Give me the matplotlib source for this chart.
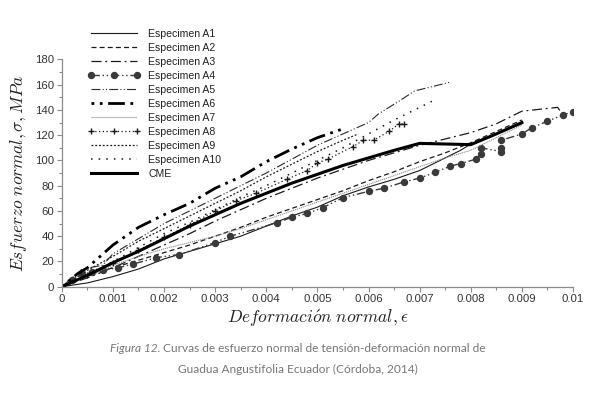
import matplotlib
matplotlib.use('Agg')
import matplotlib.pyplot as plt
from matplotlib.ticker import MultipleLocator, FuncFormatter

plt.rcParams['mathtext.fontset'] = 'cm'

# ── datos (deformacion, esfuerzo MPa) ──────────────────────────────────────
a1_eps = [0, 0.0005, 0.001, 0.0015, 0.002, 0.0025, 0.003, 0.0035, 0.004, 0.0045,
          0.005, 0.0055, 0.006, 0.0065, 0.007, 0.0072, 0.0078, 0.008, 0.0085, 0.009]
a1_sig = [0, 3, 8, 14, 22, 28, 34, 40, 48, 56, 63, 72, 79, 85, 92, 96, 108, 113, 121, 129]

a2_eps = [0, 0.0005, 0.001, 0.0015, 0.002, 0.0025, 0.003, 0.0035, 0.004, 0.0045,
          0.005, 0.0055, 0.006, 0.0065, 0.007, 0.0075, 0.008, 0.0085, 0.009]
a2_sig = [0, 9, 15, 21, 27, 33, 40, 47, 55, 62, 69, 76, 84, 91, 99, 106, 114, 123, 132]

a3_eps = [0, 0.0005, 0.001, 0.0015, 0.002, 0.0025, 0.003, 0.0035, 0.004, 0.0045,
          0.005, 0.0055, 0.006, 0.0065, 0.007, 0.0075, 0.008, 0.0085, 0.009, 0.0097, 0.0098]
a3_sig = [0, 7, 15, 24, 33, 42, 52, 61, 70, 78, 86, 93, 100, 106, 112, 117, 122, 129, 139, 142, 136]

a4_eps = [0, 0.0002, 0.0004, 0.0006, 0.0008, 0.0011, 0.0014, 0.00185, 0.0023, 0.003,
          0.0033, 0.0042, 0.0045, 0.0048, 0.0051, 0.0055, 0.006, 0.0063, 0.0067, 0.007,
          0.0073, 0.0076, 0.0078, 0.0081, 0.0082, 0.0082, 0.0086, 0.0086, 0.0086, 0.009,
          0.0092, 0.0095, 0.0098, 0.01]
a4_sig = [0, 5, 10, 12, 13, 15, 18, 23, 25.5, 35, 40, 50.5, 55, 58, 62.5, 70.5, 75.5,
          78, 83, 86, 90.5, 95.5, 97.5, 101, 105, 110, 107, 110, 116, 121, 126, 131, 136, 138.5]

a5_eps = [0, 0.0004, 0.0008, 0.001, 0.0015, 0.002, 0.0025, 0.003, 0.0035, 0.004, 0.0045,
          0.005, 0.0055, 0.006, 0.0062, 0.0066, 0.0069, 0.0076]
a5_sig = [0, 14, 17, 26, 38, 50, 60, 70, 80, 90, 101, 112, 121, 130, 137, 147, 155, 162]

a6_eps = [0, 0.0003, 0.0005, 0.001, 0.0015, 0.002, 0.0025, 0.003, 0.0035, 0.004,
          0.0045, 0.005, 0.0055]
a6_sig = [0, 10, 15, 33, 47, 57, 66, 78, 87, 99, 109, 118, 125]

a7_eps = [0, 0.0005, 0.001, 0.0015, 0.002, 0.0025, 0.003, 0.0035, 0.004, 0.0045,
          0.005, 0.0055, 0.006, 0.0065, 0.007, 0.0075, 0.008, 0.0085, 0.009]
a7_sig = [0, 8, 17, 24, 30, 35, 40, 46, 53, 60, 67, 74, 81, 88, 95, 102, 108, 118, 128]

a8_eps = [0, 0.0005, 0.001, 0.0015, 0.002, 0.0025, 0.003, 0.0034, 0.0038, 0.0044,
          0.0048, 0.005, 0.0052, 0.0057, 0.0059, 0.0061, 0.0064, 0.0066, 0.0067]
a8_sig = [0, 9, 19, 29, 39, 49, 60, 68, 74, 85, 92, 98, 101, 111, 116, 116, 123, 129, 129]

a9_eps = [0, 0.0005, 0.001, 0.0015, 0.002, 0.0025, 0.003, 0.0035, 0.004, 0.0045,
          0.005, 0.0055, 0.0058]
a9_sig = [0, 13, 24, 36, 46, 56, 66, 76, 87, 97, 107, 116, 121]

a10_eps = [0, 0.0005, 0.001, 0.0015, 0.002, 0.0025, 0.003, 0.0035, 0.004, 0.0045,
           0.005, 0.0055, 0.006, 0.0065, 0.007, 0.0073]
a10_sig = [0, 10, 20, 31, 42, 51, 61, 71, 80, 90, 100, 110, 121, 132, 142, 148]

cme_eps = [0, 0.0005, 0.001, 0.0015, 0.002, 0.0025, 0.003, 0.0035, 0.004, 0.0045,
           0.005, 0.0055, 0.006, 0.0065, 0.007, 0.0075, 0.008, 0.0085, 0.009]
cme_sig = [0, 9, 19, 28, 38, 48, 57, 66, 74, 82, 89, 96, 102, 108, 113.5, 113, 112.5, 121, 130]

x_ticks = [0, 0.001, 0.002, 0.003, 0.004, 0.005, 0.006, 0.007, 0.008, 0.009, 0.01]
y_ticks = [0, 20, 40, 60, 80, 100, 120, 140, 160, 180]

fig = plt.figure(figsize=(6, 3.96), dpi=100)
ax = fig.add_axes([0.103, 0.276, 0.852, 0.574])

ax.plot(a1_eps, a1_sig, '-', color='#1a1a1a', lw=0.8, label='Especimen A1')
ax.plot(a2_eps, a2_sig, color='#1a1a1a', lw=0.9, ls=(0, (4, 2.5)), label='Especimen A2')
ax.plot(a3_eps, a3_sig, color='#1a1a1a', lw=0.9, ls=(0, (8, 3, 1.5, 3)), label='Especimen A3')
ax.plot(a4_eps, a4_sig, color='#3a3a3a', lw=1.0, ls=(0, (6, 2, 1, 2, 1, 2)),
        marker='o', ms=4.3, label='Especimen A4')
ax.plot(a5_eps, a5_sig, color='#2a2a2a', lw=0.8, ls=(0, (8, 2, 1, 2, 1, 2)), label='Especimen A5')
ax.plot(a6_eps, a6_sig, color='black', lw=2.0, ls=(0, (1, 2, 1, 2, 6, 2)), label='Especimen A6')
ax.plot(a7_eps, a7_sig, color='#8a8a8a', lw=0.8, ls=(0, (1, 0.8)), label='Especimen A7')
ax.plot(a8_eps, a8_sig, color='#1a1a1a', lw=0.9, ls=(0, (1, 2)),
        marker='+', ms=5, mew=1, label='Especimen A8')
ax.plot(a9_eps, a9_sig, color='#1a1a1a', lw=0.9, ls=(0, (1.5, 1.5)), label='Especimen A9')
ax.plot(a10_eps, a10_sig, color='#1a1a1a', lw=1.1, ls=(0, (1, 4)), label='Especimen A10')
ax.plot(cme_eps, cme_sig, '-', color='black', lw=2.2, label='CME')

ax.set_xlim(0, 0.01)
ax.set_ylim(0, 180)
ax.set_xticks(x_ticks)
ax.set_yticks(y_ticks)
ax.xaxis.set_minor_locator(MultipleLocator(0.0005))
ax.yaxis.set_minor_locator(MultipleLocator(10))
ax.xaxis.set_major_formatter(FuncFormatter(lambda v, p: '%g' % v))

for s in ['top', 'right']:
    ax.spines[s].set_visible(False)
for s in ['left', 'bottom']:
    ax.spines[s].set_color('#8c8c8c')
    ax.spines[s].set_linewidth(0.9)
ax.tick_params(which='both', direction='out', color='#8c8c8c', width=0.8)
ax.tick_params(which='major', length=3.5, labelsize=8.2, labelcolor='#333333', pad=2)
ax.tick_params(which='minor', length=2)
for lab in ax.get_xticklabels() + ax.get_yticklabels():
    lab.set_family('Liberation Sans')

ax.set_xlabel(r'$Deformaci\acute{o}n\ normal, \epsilon$', fontsize=12.5, color='#222222', labelpad=2)
ax.set_ylabel(r'$Esfuerzo\ normal, \sigma, MPa$', fontsize=12.5, color='#222222', labelpad=4)

leg = fig.legend(loc='upper left', bbox_to_anchor=(0.147, 0.928), frameon=False,
                 prop={'family': 'Liberation Sans', 'size': 7.6}, handlelength=4.9,
                 handletextpad=0.8, labelspacing=0.38, borderpad=0, borderaxespad=0,
                 numpoints=3)
for t in leg.get_texts():
    t.set_color('#222222')

# ── pie de figura ──────────────────────────────────────────────────────────
cap_color = '#777777'
cap_font = ['Lato', 'DejaVu Sans']
fig.canvas.draw()
r = fig.canvas.get_renderer()
t_it = fig.text(0, 0, 'Figura 12.', fontsize=8.6, style='italic', family=cap_font, color=cap_color)
t_rg = fig.text(0, 0, ' Curvas de esfuerzo normal de tensión-deformación normal de',
                fontsize=8.6, family=cap_font, color=cap_color)
w_it = t_it.get_window_extent(r).width
w_rg = t_rg.get_window_extent(r).width
x0 = 298 - (w_it + w_rg) / 2
y1 = 1 - 352 / 396
t_it.set_position((x0 / 600, y1))
t_rg.set_position(((x0 + w_it) / 600, y1))
fig.text(298 / 600, 1 - 373 / 396, 'Guadua Angustifolia Ecuador (Córdoba, 2014)',
         fontsize=8.6, family=cap_font, color=cap_color, ha='center')

fig.savefig('out.png', dpi=100)
